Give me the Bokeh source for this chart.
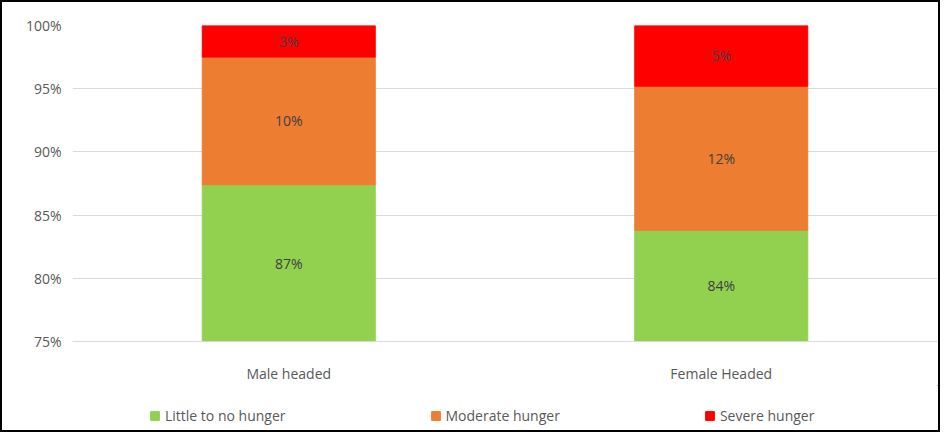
from bokeh.plotting import figure
from bokeh.layouts import column
from bokeh.models import ColumnDataSource, Legend, LegendItem, NumeralTickFormatter, FactorRange
from bokeh.embed import file_html
from bokeh.resources import INLINE
from bokeh.core.properties import value

groups = ["Male headed", "Female Headed"]
little = [87.4, 83.8]
moderate = [10.1, 11.4]
severe = [2.5, 4.8]
lab_little = ["87%", "84%"]
lab_mod = ["10%", "12%"]
lab_sev = ["3%", "5%"]
colors = ["#92d050", "#ed7d31", "#ff0000"]
names = ["Little to no hunger", "Moderate hunger", "Severe hunger"]

p = figure(x_range=FactorRange(*groups, range_padding=0), y_range=(75, 100), width=936, height=383,
           output_backend="svg", toolbar_location=None,
           min_border_left=70, min_border_right=1, min_border_top=23, min_border_bottom=44)
p.outline_line_color = None
p.xgrid.grid_line_color = None
p.ygrid.grid_line_color = "#d9d9d9"
p.yaxis.ticker = [75, 80, 85, 90, 95, 100]
p.yaxis.formatter = NumeralTickFormatter(format="0")
p.yaxis.major_label_overrides = {v: f"{v}%" for v in [75, 80, 85, 90, 95, 100]}
for ax in (p.xaxis, p.yaxis):
    ax.axis_line_color = None
    ax.major_tick_line_color = None
    ax.minor_tick_line_color = None
    ax.major_label_text_font = "Open Sans"
    ax.major_label_text_font_size = "14px"
    ax.major_label_text_color = "#595959"
p.xaxis.axis_line_color = "#d9d9d9"
p.xaxis.major_label_standoff = 16

bottoms = [[75, 75], little, [a + b for a, b in zip(little, moderate)]]
vals = [[l - 75 for l in little], moderate, severe]
labs = [lab_little, lab_mod, lab_sev]
for i in range(3):
    tops = [b + v for b, v in zip(bottoms[i], vals[i])]
    mids = [(b + t) / 2 for b, t in zip(bottoms[i], tops)]
    src = ColumnDataSource(dict(x=groups, b=bottoms[i], t=tops, m=mids, lab=labs[i]))
    p.vbar(x="x", bottom="b", top="t", width=0.4, color=colors[i], source=src)
    p.text(x="x", y="m", text="lab", source=src, text_align="center", text_baseline="middle",
           text_font=value("Open Sans"), text_font_size="14px", text_color="#404040")

p2 = figure(width=936, height=45, x_range=(0, 1), y_range=(0, 1), output_backend="svg",
            toolbar_location=None, min_border=0)
p2.axis.visible = False
p2.grid.grid_line_color = None
p2.outline_line_color = None
items = []
for i in range(3):
    r = p2.vbar(x=[5], bottom=[5], top=[6], width=0.1, color=colors[i])
    items.append(LegendItem(label=names[i], renderers=[r]))
leg = Legend(items=items, orientation="horizontal", location=(77, 5), spacing=144,
             label_text_font="Open Sans", label_text_font_size="14px", label_text_color="#595959",
             glyph_width=11, glyph_height=11, label_standoff=5, border_line_color=None,
             background_fill_alpha=0, margin=0, padding=0)
p2.add_layout(leg, "center")

lay = column(p, p2, spacing=0, styles={"border": "2px solid #000"})
open("out.html", "w").write(file_html(lay, INLINE))
